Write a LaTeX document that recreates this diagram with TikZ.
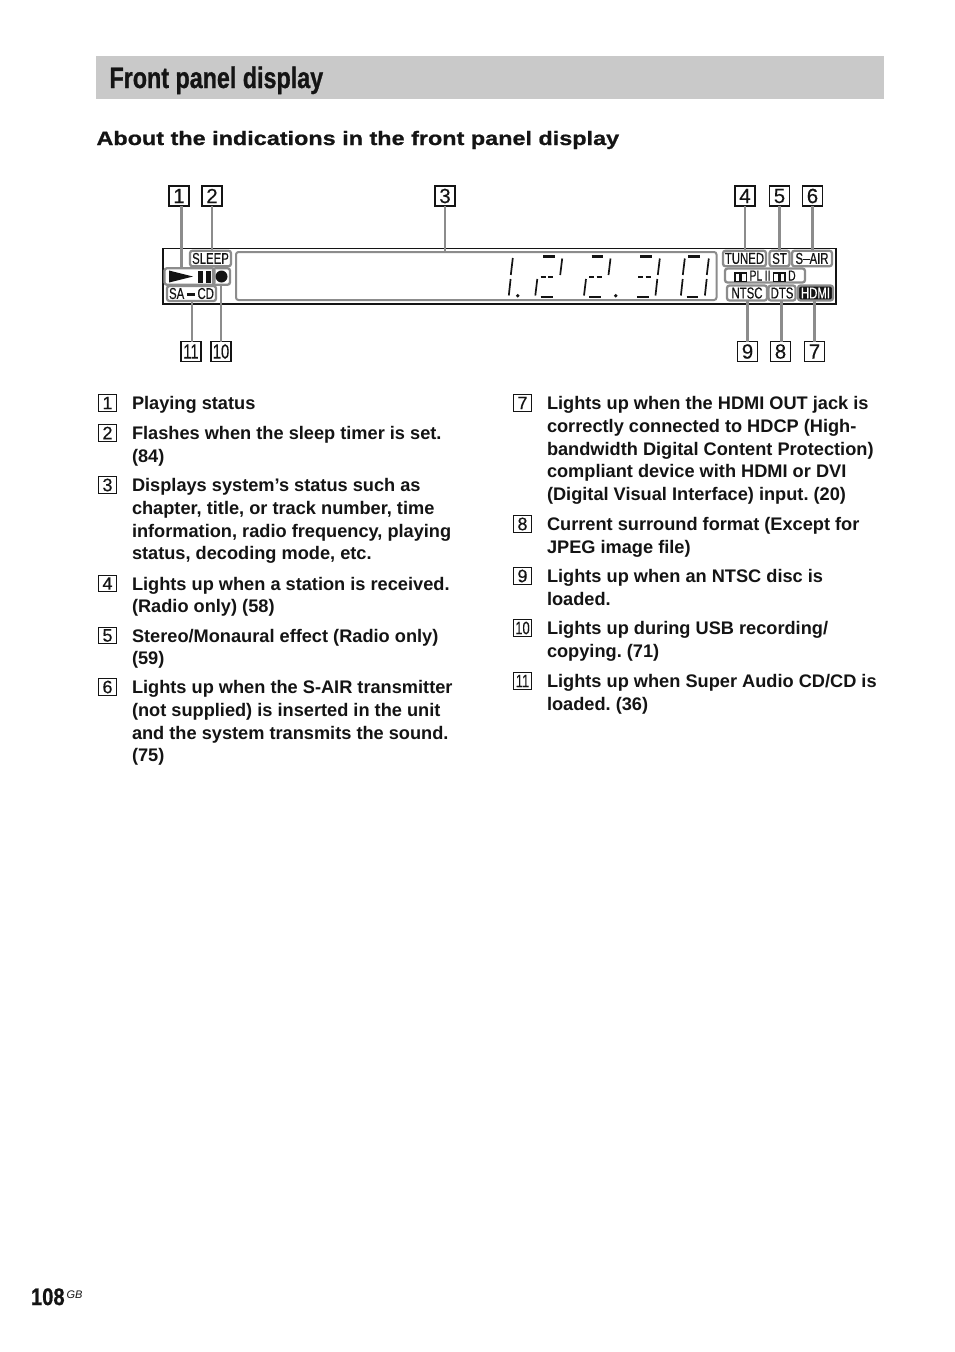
\documentclass[tikz,border=0pt]{standalone}
\usepackage{fontspec}
\setmainfont{Liberation Sans}
\newfontfamily\headfont[FakeStretch=0.79,BoldFeatures={FakeBold=0.9}]{Liberation Sans}
\newfontfamily\subfont[FakeStretch=1.2,BoldFeatures={FakeBold=0.8}]{Liberation Sans}
\newfontfamily\dblfont[FakeStretch=0.72,FakeBold=0.3]{Liberation Sans}
\newfontfamily\lcdfont[FakeStretch=0.72,FakeBold=0.35]{Liberation Sans}
\newfontfamily\numfont[FakeStretch=1,FakeBold=0.3]{Liberation Sans}
\newfontfamily\pagefont[FakeStretch=0.84,BoldFeatures={FakeBold=0.6}]{Liberation Sans}
\definecolor{panelgray}{gray}{0.55}
\definecolor{headgray}{gray}{0.79}
\definecolor{inkblack}{gray}{0.08}
\newcommand{\firstline}{\rule{0pt}{14pt}}
\newcommand{\opsq}{{\setlength\fboxsep{0pt}\setlength\fboxrule{1.5pt}\fbox{\rule{3.4pt}{0pt}\rule{0pt}{7pt}}}}
\tikzset{
  x=1pt,y=-1pt,
  every node/.style={inner sep=0pt,outer sep=0pt,text=inkblack},
  itemtext/.style={anchor=north west,align=left,font=\fontsize{18.2}{22.8}\selectfont\bfseries\frenchspacing},
  itemnum/.style={draw=inkblack,line width=1pt,minimum width=18.5pt,minimum height=16.5pt,anchor=center,font=\fontsize{18}{18}\selectfont\numfont},
  callnum/.style={draw=inkblack,line width=1.1pt,fill=white,minimum width=20pt,minimum height=20pt,anchor=center,font=\fontsize{20.5}{20.5}\selectfont\numfont},
  leader/.style={draw=panelgray,line width=2.7pt},
  lcd/.style={draw=panelgray,line width=2.3pt,rounded corners=2.5pt},
  lcdtext/.style={font=\fontsize{15.8}{15.8}\selectfont\lcdfont,anchor=center},
  bar/.style={draw=inkblack,line width=2.4pt},
  seg/.style={draw=inkblack,line width=1.7pt},
}
\newcommand{\itementry}[6]{%
  \node[itemnum] (#1n) at (#2,#3) {#4};
  \node[itemtext] (#1t) at (#5,#3-7.5) {\firstline #6};
}
\begin{document}
\begin{tikzpicture}
\useasboundingbox (0,0) rectangle (954,1352);
\fill[white] (0,0) rectangle (954,1352);
% header
\fill[headgray] (96,56) rectangle (884,99);
\node[anchor=base west,font=\fontsize{29.5}{30}\selectfont\headfont\bfseries] (title) at (109.5,88) {Front panel display};
\node[anchor=base west,font=\fontsize{19.5}{20}\selectfont\subfont\bfseries] (sub) at (96.5,145) {About the indications in the front panel display};
% panel
\draw[inkblack,line width=1.8pt] (163,248.5) rectangle (836,304);
\node[draw=panelgray,line width=2pt,rounded corners=2.5pt,minimum width=480.5pt,minimum height=48pt,anchor=north west] (main) at (236,252) {};
\node[lcd,draw,minimum width=41pt,minimum height=15.5pt,lcdtext] (sleep) at (210.5,258.5) {SLEEP};
\node[lcd,draw,minimum width=50pt,minimum height=16.5pt] (play) at (189.5,276.5) {};
\node[lcd,draw,minimum width=17pt,minimum height=16.5pt] (rec) at (221.5,276.5) {};
\node[lcd,draw,minimum width=49pt,minimum height=15pt,lcdtext] (sacd) at (191.5,293.5) {SA\,\rule[3.4pt]{8pt}{2.2pt}\,CD};
\fill[inkblack] (169,270.5) -- (193,276.5) -- (169,282.5) -- cycle;
\fill[inkblack] (198,271) rectangle (203,282.5);
\fill[inkblack] (205.5,271) rectangle (210.5,282.5);
\fill[inkblack] (221.5,276.5) circle (6);
\node[lcd,draw,minimum width=43pt,minimum height=15.5pt,lcdtext] (tuned) at (744.5,258.5) {TUNED};
\node[lcd,draw,minimum width=20pt,minimum height=15.5pt,lcdtext] (st) at (779.5,258.5) {ST};
\node[lcd,draw,minimum width=40pt,minimum height=15.5pt,lcdtext] (sair) at (812,258.5) {S\rule[3.6pt]{6.5pt}{1.6pt}AIR};
\node[lcd,draw,minimum width=80pt,minimum height=14pt] (pl) at (765,275.5) {};
\node[anchor=base,font=\fontsize{14.5}{14.5}\selectfont\lcdfont] (pltext) at (765,280.5) {\opsq\opsq\,PL\,II\,\opsq\opsq\,D};
\node[lcd,draw,minimum width=40pt,minimum height=15pt,lcdtext] (ntsc) at (747,293) {NTSC};
\node[lcd,draw,minimum width=27pt,minimum height=15pt,lcdtext] (dts) at (782,293) {DTS};
\node[lcd,draw,fill=inkblack,minimum width=35pt,minimum height=15pt,lcdtext,text=white] (hdmi) at (815.5,293) {HDMI};
% segments: verticals and dashes
\foreach \xa/\ya/\xb/\yb in {
 512.8/258/510.8/275, 510.6/279/508.8/295.5,
 562.2/258.5/560.2/275, 540.7/277/545.7/277, 548/277/553/277, 537.3/279/535.3/295.5,
 610.5/258.5/608.5/275, 589.3/277/594.3/277, 596.7/277/601.7/277, 586/279/584/295.5,
 659.8/258.5/657.8/275, 638.3/277/643.3/277, 645.7/277/650.7/277, 657.3/279/655.5/295.5,
 684.8/258.5/682.8/275, 682.7/279/680.9/295.5,
 708.8/258.5/706.8/275, 706.7/279/704.9/295.5}
  \draw[seg] (\xa,\ya) -- (\xb,\yb);
% segments: horizontal bars
\foreach \xa/\ya/\xb in {
 543/256.5/555, 540.7/297/552.7,
 591.7/256.5/603.3, 589.3/297/601,
 640/256.5/651.7, 637.3/297/649,
 688.3/256.5/700, 686.7/297/698.3}
  \draw[bar] (\xa,\ya) -- (\xb,\ya);
\fill[inkblack] (517.7,295.7) circle (1.9);
\fill[inkblack] (615.7,295.7) circle (1.9);
% call-outs
\node[callnum] (c1) at (179,196) {1};
\node[callnum] (c2) at (212,196) {2};
\node[callnum] (c3) at (445,196) {3};
\node[callnum] (c4) at (745,196) {4};
\node[callnum] (c5) at (779.5,196) {5};
\node[callnum] (c6) at (812.5,196) {6};
\node[callnum] (c7) at (814.5,351.5) {7};
\node[callnum] (c8) at (780.5,351.5) {8};
\node[callnum] (c9) at (747.5,351.5) {9};
\node[callnum] (c10) at (221,351.5) {{\dblfont 10}};
\node[callnum] (c11) at (191,351.5) {{\dblfont 11}};
\draw[leader] ([xshift=2.7pt]c1.south) -- ([xshift=2.7pt]c1.south |- play.north);
\draw[leader] (c2.south) -- (c2.south |- sleep.north);
\draw[leader] (c3.south) -- (c3.south |- main.north);
\draw[leader] (c4.south) -- (c4.south |- tuned.north);
\draw[leader] (c5.south) -- (c5.south |- st.north);
\draw[leader] (c6.south) -- (c6.south |- sair.north);
\draw[leader] (c7.north) -- (c7.north |- hdmi.south);
\draw[leader] ([xshift=1pt]c8.north) -- ([xshift=1pt]c8.north |- dts.south);
\draw[leader] (c9.north) -- (c9.north |- ntsc.south);
\draw[leader] (c10.north) -- (c10.north |- rec.south);
\draw[leader] ([xshift=1pt]c11.north) -- ([xshift=1pt]c11.north |- sacd.south);
% left list
\itementry{a}{107.5}{403}{1}{132}{Playing status}
\itementry{b}{107.5}{433}{2}{132}{Flashes when the sleep timer is set.\\(84)}
\itementry{c}{107.5}{485}{3}{132}{Displays system’s status such as\\chapter, title, or track number, time\\information, radio frequency, playing\\status, decoding mode, etc.}
\itementry{d}{107.5}{583.5}{4}{132}{Lights up when a station is received.\\(Radio only) (58)}
\itementry{e}{107.5}{635.5}{5}{132}{Stereo/Monaural effect (Radio only)\\(59)}
\itementry{f}{107.5}{687}{6}{132}{Lights up when the S-AIR transmitter\\(not supplied) is inserted in the unit\\and the system transmits the sound.\\(75)}
% right list
\itementry{g}{522.5}{403}{7}{547}{Lights up when the HDMI OUT jack is\\correctly connected to HDCP (High-\\bandwidth Digital Content Protection)\\compliant device with HDMI or DVI\\(Digital Visual Interface) input. (20)}
\itementry{h}{522.5}{524}{8}{547}{Current surround format (Except for\\JPEG image file)}
\itementry{i}{522.5}{576}{9}{547}{Lights up when an NTSC disc is\\loaded.}
\itementry{j}{522.5}{628}{{\dblfont 10}}{547}{Lights up during USB recording/\\copying. (71)}
\itementry{k}{522.5}{681}{{\dblfont 11}}{547}{Lights up when Super Audio CD/CD is\\loaded. (36)}
% page number
\node[anchor=base west,font=\fontsize{24}{24}\selectfont\pagefont\bfseries] (page) at (31,1305) {108};
\node[anchor=base west,font=\fontsize{11}{11}\selectfont\itshape] (gb) at (66.5,1298) {GB};
\end{tikzpicture}
\end{document}
